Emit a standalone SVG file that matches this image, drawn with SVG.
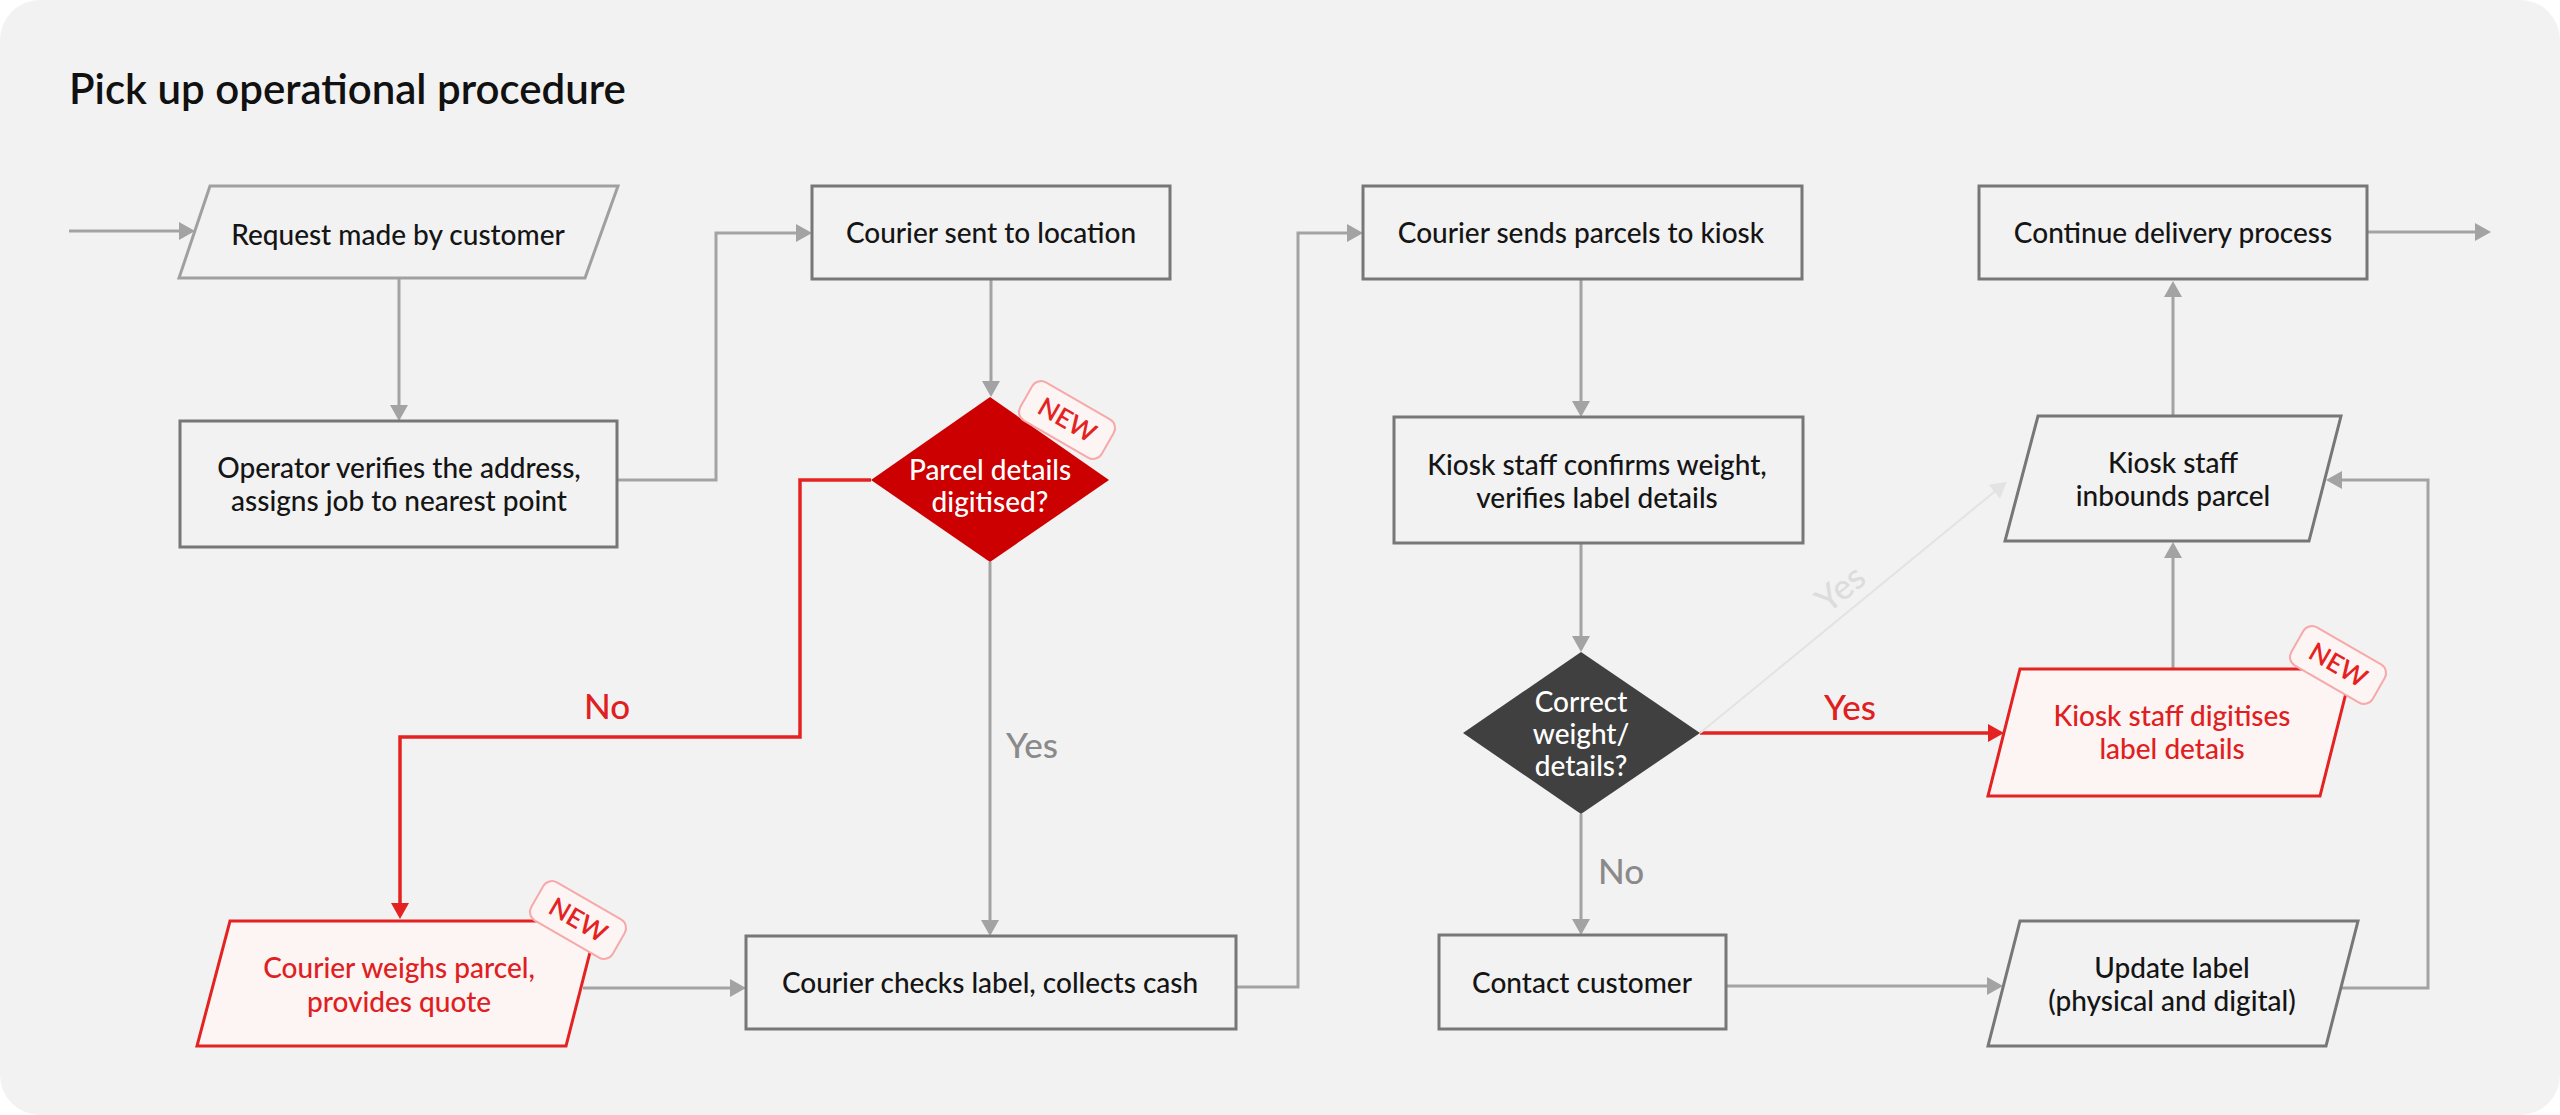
<svg xmlns="http://www.w3.org/2000/svg" width="2560" height="1115" viewBox="0 0 2560 1115">
<style>
.t{font-family:Lato,"Open Sans","Liberation Sans",sans-serif;font-size:28px;font-weight:500;fill:#151515;text-anchor:middle}
.box{fill:#f2f2f2;stroke:#777;stroke-width:3}
.red{fill:#fdf4f4;stroke:#e52222;stroke-width:3}
.rt{fill:#e02020}
.wt{fill:#fff}
.c{fill:none;stroke:#a3a3a3;stroke-width:3}
.cr{fill:none;stroke:#e52222;stroke-width:3.5}
.cl{fill:none;stroke:#e3e3e3;stroke-width:2}
.lbl{font-family:Lato,"Open Sans","Liberation Sans",sans-serif;font-size:35px;font-weight:500;text-anchor:middle}
.badge{fill:#fdf4f4;stroke:#f7a9a9;stroke-width:2}
.nw{font-family:Lato,"Open Sans","Liberation Sans",sans-serif;font-size:26px;font-weight:600;fill:#e52222;text-anchor:middle}
</style>
<defs>
<marker id="ag" markerUnits="userSpaceOnUse" markerWidth="16" markerHeight="18" refX="6" refY="9" orient="auto"><path d="M0,0 L16,9 L0,18 z" fill="#a3a3a3"/></marker>
<marker id="ar" markerUnits="userSpaceOnUse" markerWidth="16" markerHeight="18" refX="6" refY="9" orient="auto"><path d="M0,0 L16,9 L0,18 z" fill="#e52222"/></marker>
<marker id="al" markerUnits="userSpaceOnUse" markerWidth="16" markerHeight="18" refX="6" refY="9" orient="auto"><path d="M0,0 L16,9 L0,18 z" fill="#e3e3e3"/></marker>
</defs>
<rect x="0" y="0" width="2560" height="1115" fill="#ffffff"/>
<rect x="0" y="0" width="2560" height="1115" rx="40" fill="#f2f2f2"/>
<text x="69" y="104" style="font-family:Lato,'Open Sans','Liberation Sans',sans-serif;font-size:42px;font-weight:600;fill:#111">Pick up operational procedure</text>

<g id="connectors">
<path class="c" d="M69,231 H185" marker-end="url(#ag)"/>
<path class="c" d="M399,278 V411" marker-end="url(#ag)"/>
<path class="c" d="M617,480 H716 V233 H802" marker-end="url(#ag)"/>
<path class="c" d="M991,279 V387" marker-end="url(#ag)"/>
<path class="cr" d="M871,480 H800 V737 H400 V909" marker-end="url(#ar)"/>
<path class="c" d="M990,562 V926" marker-end="url(#ag)"/>
<path class="c" d="M583,988 H736" marker-end="url(#ag)"/>
<path class="c" d="M1236,987 H1298 V233 H1353" marker-end="url(#ag)"/>
<path class="c" d="M1581,279 V407" marker-end="url(#ag)"/>
<path class="c" d="M1581,543 V642" marker-end="url(#ag)"/>
<path class="c" d="M1581,814 V925" marker-end="url(#ag)"/>
<path class="cr" d="M1700,733 H1994" marker-end="url(#ar)"/>
<path class="cl" d="M1700,733 L1999,488" marker-end="url(#al)"/>
<path class="c" d="M2173,669 V552" marker-end="url(#ag)"/>
<path class="c" d="M2173,416 V291" marker-end="url(#ag)"/>
<path class="c" d="M2367,232 H2481" marker-end="url(#ag)"/>
<path class="c" d="M1726,986 H1993" marker-end="url(#ag)"/>
<path class="c" d="M2341,988 H2428 V480 H2336" marker-end="url(#ag)"/>
<text class="lbl" x="607" y="719" fill="#e02020">No</text>
<text class="lbl" x="1032" y="758" fill="#8a8a8a">Yes</text>
<text class="lbl" x="1850" y="720" fill="#e02020">Yes</text>
<text class="lbl" x="1621" y="884" fill="#8a8a8a">No</text>
<text class="lbl" x="0" y="0" fill="#dcdcdc" transform="translate(1848,598) rotate(-39)">Yes</text>
</g>

<g id="request">
<polygon class="box" points="210,186 618,186 585,278 179,278" style="stroke:#a0a0a0"/>
<text class="t" x="398" y="245">Request made by customer</text>
</g>
<g id="operator">
<rect class="box" x="180" y="421" width="437" height="126"/>
<text class="t" x="399" y="478">Operator verifies the address,</text>
<text class="t" x="399" y="511">assigns job to nearest point</text>
</g>
<g id="courier-sent">
<rect class="box" x="812" y="186" width="358" height="93"/>
<text class="t" x="991" y="243">Courier sent to location</text>
</g>
<g id="parcel-digitised">
<polygon points="990,397 1109,480 990,562 871,480" fill="#cc0000"/>
<text class="t wt" x="990" y="480">Parcel details</text>
<text class="t wt" x="990" y="512">digitised?</text>
<g transform="translate(1067,420) rotate(30)">
<rect class="badge" x="-47" y="-22" width="94" height="44" rx="10"/>
<text class="nw" x="0" y="9">NEW</text>
</g>
</g>
<g id="courier-weighs">
<polygon class="red" points="230,921 598,921 566,1046 197,1046"/>
<text class="t rt" x="399" y="978">Courier weighs parcel,</text>
<text class="t rt" x="399" y="1012">provides quote</text>
<g transform="translate(578,920) rotate(30)">
<rect class="badge" x="-47" y="-22" width="94" height="44" rx="10"/>
<text class="nw" x="0" y="9">NEW</text>
</g>
</g>
<g id="courier-checks">
<rect class="box" x="746" y="936" width="490" height="93"/>
<text class="t" x="990" y="993">Courier checks label, collects cash</text>
</g>
<g id="courier-sends">
<rect class="box" x="1363" y="186" width="439" height="93"/>
<text class="t" x="1581" y="243">Courier sends parcels to kiosk</text>
</g>
<g id="kiosk-confirms">
<rect class="box" x="1394" y="417" width="409" height="126"/>
<text class="t" x="1597" y="475">Kiosk staff confirms weight,</text>
<text class="t" x="1597" y="508">verifies label details</text>
</g>
<g id="correct-weight">
<polygon points="1581,652 1700,733 1581,814 1463,733" fill="#404040"/>
<text class="t wt" x="1581" y="712">Correct</text>
<text class="t wt" x="1581" y="744">weight/</text>
<text class="t wt" x="1581" y="776">details?</text>
</g>
<g id="contact-customer">
<rect class="box" x="1439" y="935" width="287" height="94"/>
<text class="t" x="1582" y="993">Contact customer</text>
</g>
<g id="continue-delivery">
<rect class="box" x="1979" y="186" width="388" height="93"/>
<text class="t" x="2173" y="243">Continue delivery process</text>
</g>
<g id="kiosk-inbounds">
<polygon class="box" points="2038,416 2341,416 2309,541 2005,541"/>
<text class="t" x="2173" y="473">Kiosk staff</text>
<text class="t" x="2173" y="506">inbounds parcel</text>
</g>
<g id="kiosk-digitises">
<polygon class="red" points="2020,669 2352,669 2320,796 1988,796"/>
<text class="t rt" x="2172" y="726">Kiosk staff digitises</text>
<text class="t rt" x="2172" y="759">label details</text>
<g transform="translate(2338,665) rotate(30)">
<rect class="badge" x="-47" y="-22" width="94" height="44" rx="10"/>
<text class="nw" x="0" y="9">NEW</text>
</g>
</g>
<g id="update-label">
<polygon class="box" points="2020,921 2358,921 2326,1046 1988,1046"/>
<text class="t" x="2172" y="978">Update label</text>
<text class="t" x="2172" y="1011">(physical and digital)</text>
</g>
</svg>
